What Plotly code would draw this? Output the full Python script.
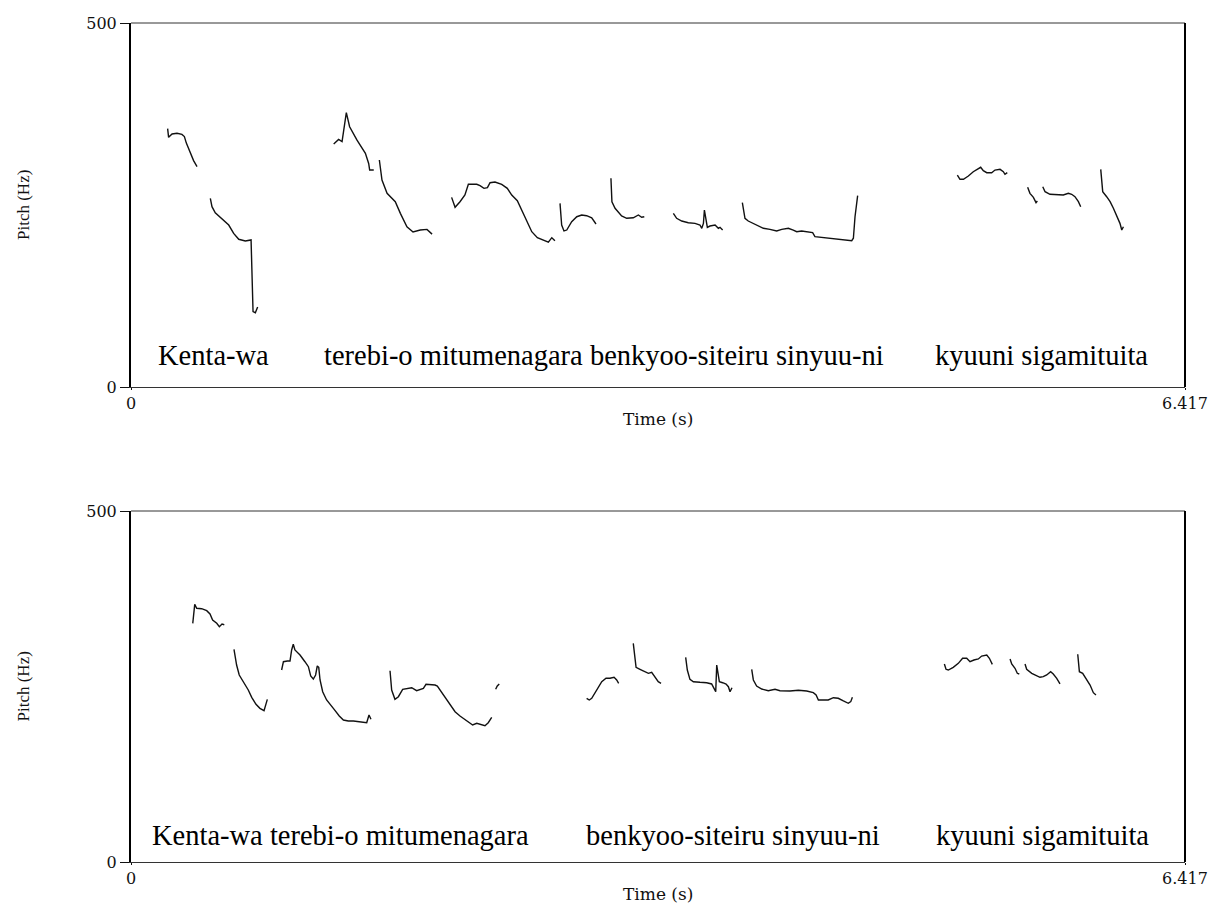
import plotly.graph_objects as go

# page has an 8px body margin, so the figure is drawn 8px in from the window corner
OFF = 8
W, H = 1225 - OFF, 903 - OFF
T_MAX = 6.417
F_MAX = 500

# ---------------- data (time in s, pitch in Hz); None separates contour pieces ----------------
top_kenta_t = [0.223, 0.229, 0.250, 0.280, 0.310, 0.325, 0.337, 0.361, 0.381, 0.402, None,
               0.483, 0.493, 0.513, 0.564, 0.595, 0.625, 0.656, 0.696, 0.731, 0.743, 0.757, 0.771]
top_kenta_f = [355, 343, 347.5, 348.5, 347, 344, 335, 321, 311, 302.6, None,
               259, 247.7, 239.4, 229.4, 222.5, 211, 202.9, 200.5, 202, 103.5, 102, 110]

top_terebi_t = [1.234, 1.264, 1.285, 1.295, 1.311, 1.331, 1.376, 1.427, 1.447, 1.453, 1.478, None,
                1.512, 1.528, 1.559, 1.609, 1.640, 1.680, 1.717, 1.761, 1.802, 1.833]
top_terebi_f = [333.8, 340, 337, 353, 376.8, 357.5, 339, 321, 307, 298, 298, None,
                311.8, 284.3, 266, 254.5, 238.5, 220, 213, 215.6, 216.5, 210]

top_mitu_t = [1.952, 1.973, 2.003, 2.033, 2.054, 2.105, 2.125, 2.149, 2.170, 2.186, 2.216, 2.257,
              2.291, 2.318, 2.352, 2.379, 2.409, 2.440, 2.474, 2.511, 2.541, 2.562, 2.581]
top_mitu_f = [260.5, 246.8, 254.5, 263.7, 278.4, 278.4, 276.5, 272.9, 273.8, 280.6, 281.6, 278.4,
              272.9, 263.7, 255.9, 243.1, 227, 213.3, 205.1, 202, 198.8, 205.1, 201]

top_benkyoo_t = [2.612, 2.622, 2.636, 2.653, 2.683, 2.714, 2.744, 2.774, 2.805, 2.831, None,
                 2.922, 2.928, 2.947, 2.987, 3.018, 3.058, 3.089, 3.109, 3.125, None,
                 3.302, 3.322, 3.353, 3.393, 3.434, 3.464, 3.475, 3.485, 3.491, 3.499, 3.509,
                 3.525, 3.556, 3.576, 3.586, 3.602]
top_benkyoo_f = [252.3, 222.5, 214.3, 215.6, 227, 233.9, 236.3, 235.3, 232.5, 223.9, None,
                 286.7, 254.5, 245.5, 234.9, 231.7, 232.5, 236.3, 233.1, 233.9, None,
                 238.5, 231.7, 228, 225.7, 224.8, 222.5, 218, 224.8, 243.1, 229.4, 219.3,
                 221.1, 222.5, 218, 219.3, 215.6]

top_sinyuu_t = [3.722, 3.738, 3.758, 3.799, 3.850, 3.890, 3.931, 3.962, 4.002, 4.032, 4.053, 4.083,
                4.124, 4.150, 4.164, 4.205, 4.256, 4.317, 4.367, 4.388, 4.398, 4.408, 4.424]
top_sinyuu_f = [253.2, 231.7, 228, 223.9, 218, 216.6, 214.3, 216.6, 218, 215.6, 213.3, 214.3,
                213.3, 212, 206.5, 205.6, 204.3, 202.9, 202, 201, 204.3, 233.9, 262.8]

top_kyuuni_t = [5.031, 5.047, 5.068, 5.098, 5.128, 5.159, 5.173, 5.189, 5.210, 5.240, 5.260, 5.291,
                5.311, 5.321, 5.335, None,
                5.459, 5.473, 5.494, 5.510, 5.518, None,
                5.551, 5.565, 5.595, 5.636, 5.676, 5.707, 5.727, 5.747, 5.768, 5.782, None,
                5.904, 5.910, 5.916, 5.940, 5.961, 5.981, 6.001, 6.021, 6.032, 6.042]
top_kyuuni_f = [291.2, 285.3, 285.3, 289.8, 295.7, 300.4, 301.8, 297.1, 294.4, 294.4, 298, 299,
                295.7, 292.2, 294.4, None,
                274.3, 266, 260.5, 253.2, 255.5, None,
                275.1, 268.3, 264.7, 263.7, 263.7, 266, 264.7, 261.4, 254.5, 247.7, None,
                299, 282, 268.3, 261.4, 254.5, 245.5, 236.3, 224.8, 215.6, 220.2]

bot_kenta_t = [0.376, 0.388, 0.400, 0.430, 0.461, 0.481, 0.497, 0.522, 0.538, 0.554, 0.568, None,
               0.627, 0.643, 0.659, 0.684, 0.714, 0.735, 0.761, 0.785, 0.810, 0.830]
bot_kenta_f = [340, 367, 361.4, 360.8, 358, 353.3, 344.7, 340, 335.2, 339, 338, None,
               303, 280.6, 266.4, 256.8, 245, 234.6, 224.6, 218.9, 215.6, 231.7]

bot_terebi_t = [0.917, 0.928, 0.952, 0.968, 0.978, 0.988, 0.998, 1.029, 1.059, 1.080, 1.094, 1.110,
                1.124, 1.134, 1.143, 1.151, 1.167, 1.191, 1.232, 1.268, 1.293, 1.323, 1.354,
                1.384, 1.414, 1.435, 1.449, 1.461]
bot_terebi_f = [273.5, 285.3, 286.3, 286.3, 302, 310.1, 302, 294.9, 285.3, 278.2, 265, 260.7,
                266.4, 279.2, 277.3, 259.3, 242.6, 230.8, 218.9, 208, 202.3, 200.9, 200.9,
                199.9, 198.4, 198.4, 209.4, 203.3]

bot_mitu_t = [1.577, 1.587, 1.607, 1.628, 1.654, 1.688, 1.709, 1.739, 1.760, 1.780, 1.796, 1.820,
              1.851, 1.865, 1.881, 1.912, 1.942, 1.973, 2.003, 2.023, 2.054, 2.080, 2.105,
              2.135, 2.155, 2.175, 2.196, None,
              2.220, 2.230, 2.242]
bot_mitu_f = [272.5, 245, 231.7, 235.5, 246, 247.4, 248.3, 244, 246, 247.4, 253.1, 253.1,
              252.1, 250.7, 245, 235.5, 223.6, 214.1, 208, 204.7, 198.4, 195.2, 197.6,
              195.2, 194.2, 198.4, 206.1, None,
              246, 250.7, 253.6]

bot_benkyoo_t = [2.774, 2.790, 2.805, 2.825, 2.845, 2.866, 2.892, 2.916, 2.941, 2.957, 2.969, None,
                 3.058, 3.067, 3.075, 3.099, 3.129, 3.150, 3.170, 3.190, 3.210, 3.227, None,
                 3.377, 3.387, 3.403, 3.424, 3.464, 3.505, 3.535, 3.549, 3.560, 3.566, 3.572,
                 3.582, 3.602, 3.623, 3.637, 3.647, 3.659]
bot_benkyoo_f = [233.2, 230.8, 233.2, 241.2, 249.7, 256.8, 261.7, 261.7, 263.1, 259.3, 254.6, None,
                 311.5, 292.5, 277.3, 274.5, 271.1, 268.8, 270.2, 264, 256.8, 254.5, None,
                 291.6, 273.5, 260.2, 256.8, 256, 255.4, 253.6, 247.4, 242.6, 280.6, 268.8,
                 256.8, 255.4, 253.6, 249.7, 242.6, 248.3]

bot_sinyuu_t = [3.779, 3.789, 3.809, 3.840, 3.880, 3.921, 3.951, 4.012, 4.063, 4.114, 4.154, 4.171,
                4.185, 4.215, 4.245, 4.276, 4.306, 4.337, 4.367, 4.382, 4.392]
bot_sinyuu_f = [274.5, 259.3, 250.7, 246.4, 244, 246, 244, 243.6, 244.6, 243.6, 241.2, 237.9,
                230.8, 230.8, 230.8, 234, 233.2, 229.4, 226.1, 228.4, 234.6]

bot_kyuuni_t = [4.952, 4.962, 4.976, 5.006, 5.037, 5.063, 5.088, 5.108, 5.132, 5.159, 5.179, 5.210,
                5.226, 5.244, None,
                5.352, 5.362, 5.382, 5.396, 5.408, None,
                5.443, 5.453, 5.484, 5.514, 5.534, 5.554, 5.575, 5.599, 5.615, 5.636, 5.656, None,
                5.764, 5.774, 5.794, 5.819, 5.839, 5.859, 5.875]
bot_kyuuni_f = [282, 274.5, 273.5, 277.3, 283, 290.2, 290.2, 285.3, 287.7, 289.2, 293.4, 294.9,
                290.2, 281.6, None,
                289.2, 282, 275.9, 268.8, 267.8, None,
                282, 274.5, 268.8, 265, 263.1, 264, 266.4, 271.1, 267.8, 261.7, 253.6, None,
                295.9, 271.1, 268.8, 260.2, 252.1, 241.2, 237.9]

top_words = ["Kenta-wa", "terebi-o mitumenagara benkyoo-siteiru sinyuu-ni", "kyuuni sigamituita"]
top_word_t = [0.152, 1.163, 4.880]
bot_words = ["Kenta-wa terebi-o mitumenagara", "benkyoo-siteiru sinyuu-ni", "kyuuni sigamituita"]
bot_word_t = [0.116, 2.758, 4.890]

x_tickvals = [0, T_MAX]
x_ticktext = ["0", "6.417"]
y_tickvals = [0, 500]
y_ticktext = ["0", "500"]

# ---------------- layout helpers (window pixel -> paper) ----------------
def pxx(p):
    return (p - OFF) / W

def pxy(p):
    return 1 - (p - OFF) / H

PLOT_L, PLOT_R = 131, 1185
PANELS = [(23, 387), (511, 862)]

fig = go.Figure()
line_style = dict(color="#111111", width=1.4)

top_series = [(top_kenta_t, top_kenta_f), (top_terebi_t, top_terebi_f), (top_mitu_t, top_mitu_f),
              (top_benkyoo_t, top_benkyoo_f), (top_sinyuu_t, top_sinyuu_f), (top_kyuuni_t, top_kyuuni_f)]
bot_series = [(bot_kenta_t, bot_kenta_f), (bot_terebi_t, bot_terebi_f), (bot_mitu_t, bot_mitu_f),
              (bot_benkyoo_t, bot_benkyoo_f), (bot_sinyuu_t, bot_sinyuu_f), (bot_kyuuni_t, bot_kyuuni_f)]

for t, f in top_series:
    fig.add_trace(go.Scatter(x=t, y=f, mode="lines", line=line_style, connectgaps=False,
                             xaxis="x", yaxis="y", showlegend=False, hoverinfo="skip"))
for t, f in bot_series:
    fig.add_trace(go.Scatter(x=t, y=f, mode="lines", line=line_style, connectgaps=False,
                             xaxis="x2", yaxis="y2", showlegend=False, hoverinfo="skip"))

tick_font = dict(family="DejaVu Serif", size=16, color="#111111")
title_font = dict(family="DejaVu Serif", size=17, color="#111111")

def xaxis_cfg(anchor):
    return dict(domain=[pxx(PLOT_L), pxx(PLOT_R)], anchor=anchor, range=[0, T_MAX],
                tickmode="array", tickvals=x_tickvals, ticktext=x_ticktext,
                ticks="outside", ticklen=2, tickwidth=1, tickcolor="#111111",
                tickfont=tick_font, showline=True, linecolor="#333333", linewidth=1,
                showgrid=False, zeroline=False, automargin=False, fixedrange=True)

def yaxis_cfg(anchor, top, bottom):
    return dict(domain=[pxy(bottom), pxy(top)], anchor=anchor, range=[0, F_MAX],
                tickmode="array", tickvals=y_tickvals, ticktext=y_ticktext,
                ticks="outside", ticklen=9, tickwidth=1, tickcolor="#111111",
                tickfont=tick_font, showline=True, linecolor="#000000", linewidth=2,
                showgrid=False, zeroline=False, automargin=False, fixedrange=True)

annotations = []
shapes = []
for i, (top, bottom) in enumerate(PANELS):
    xs = "x" if i == 0 else "x2"
    ys = "y" if i == 0 else "y2"
    shapes.append(dict(type="line", xref=xs + " domain", yref=ys + " domain",
                       x0=0, x1=1, y0=1, y1=1, line=dict(color="#333333", width=1)))
    shapes.append(dict(type="line", xref=xs + " domain", yref=ys + " domain",
                       x0=1, x1=1, y0=0, y1=1, line=dict(color="#000000", width=2)))
    annotations.append(dict(text="Pitch (Hz)", textangle=-90, xref="paper", yref="paper",
                            x=pxx(23), y=pxy((top + bottom) / 2), xanchor="center", yanchor="middle",
                            showarrow=False,
                            font=dict(family="Liberation Serif", size=17, color="#111111")))
    annotations.append(dict(text="Time (s)", xref="paper", yref="paper",
                            x=pxx((PLOT_L + PLOT_R) / 2), y=pxy(bottom + 32),
                            xanchor="center", yanchor="middle", showarrow=False, font=title_font))

word_font = dict(family="Liberation Serif", size=28.5, color="#000000")
for txt, t in zip(top_words, top_word_t):
    annotations.append(dict(text=txt, xref="x", yref="paper", x=t, y=pxy(355.5),
                            xanchor="left", yanchor="middle", showarrow=False, font=word_font))
for txt, t in zip(bot_words, bot_word_t):
    annotations.append(dict(text=txt, xref="x2", yref="paper", x=t, y=pxy(835.5),
                            xanchor="left", yanchor="middle", showarrow=False, font=word_font))

fig.update_layout(
    width=W, height=H,
    margin=dict(l=0, r=0, t=0, b=0),
    paper_bgcolor="white", plot_bgcolor="white",
    xaxis=xaxis_cfg("y"),
    yaxis=yaxis_cfg("x", *PANELS[0]),
    xaxis2=xaxis_cfg("y2"),
    yaxis2=yaxis_cfg("x2", *PANELS[1]),
    annotations=annotations,
    shapes=shapes,
    showlegend=False,
)

fig.write_html("out.html", config={"displayModeBar": False})
